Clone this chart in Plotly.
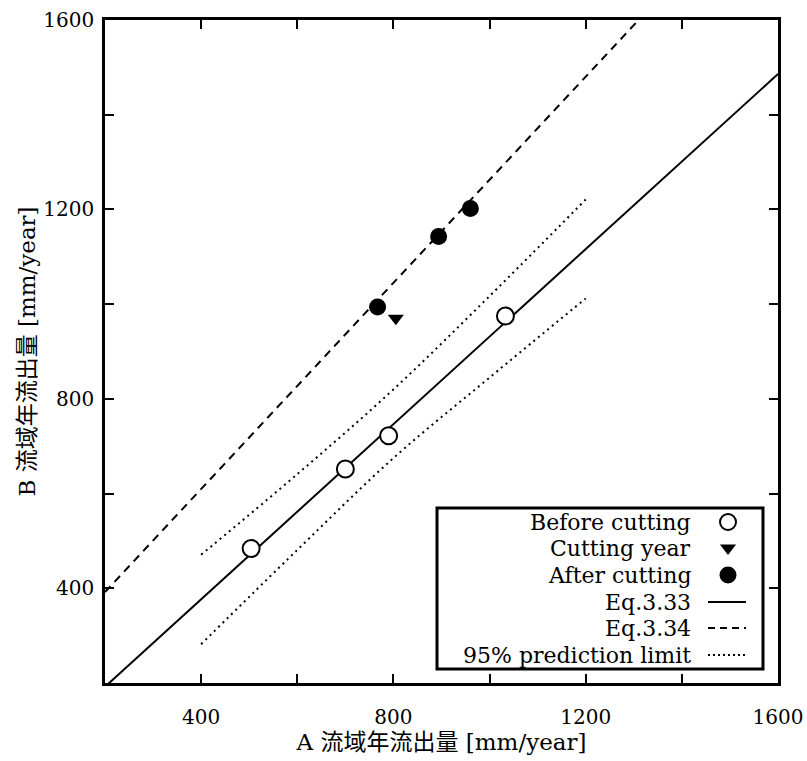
import plotly.graph_objects as go

# ---- data ----
before_x = [504, 700, 790, 1033]
before_y = [484, 652, 722, 975]
cutyear_x = [805]
cutyear_y = [970]
after_x = [767, 894, 960]
after_y = [994, 1143, 1202]

eq333_x = [200, 1600]
eq333_y = [192, 1486]
eq334_x = [200, 1310]
eq334_y = [392, 1600]

pred_x = [400, 600, 800, 1000, 1200]
pred_upper = [471, 641, 820, 1017, 1221]
pred_lower = [282, 481, 675, 845, 1012]

tick_vals = [200, 400, 600, 800, 1000, 1200, 1400, 1600]
tick_text = ["", "400", "", "800", "", "1200", "", "1600"]

legend_labels = ["Before cutting", "Cutting year", "After cutting",
                 "Eq.3.33", "Eq.3.34", "95% prediction limit"]

FONT = "DejaVu Serif, Noto Sans CJK JP, serif"

fig = go.Figure()

# lines
fig.add_trace(go.Scatter(x=eq333_x, y=eq333_y, mode="lines",
                         line=dict(color="black", width=2), showlegend=False))
fig.add_trace(go.Scatter(x=eq334_x, y=eq334_y, mode="lines",
                         line=dict(color="black", width=2, dash="8px,6px"), showlegend=False))
fig.add_trace(go.Scatter(x=pred_x, y=pred_upper, mode="lines", line_shape="spline",
                         line=dict(color="black", width=2, dash="2px,4px"), showlegend=False))
fig.add_trace(go.Scatter(x=pred_x, y=pred_lower, mode="lines", line_shape="spline",
                         line=dict(color="black", width=2, dash="2px,4px"), showlegend=False))

# points
fig.add_trace(go.Scatter(x=before_x, y=before_y, mode="markers",
                         marker=dict(symbol="circle", size=17, color="white",
                                     line=dict(color="black", width=2)), showlegend=False))
fig.add_trace(go.Scatter(x=cutyear_x, y=cutyear_y, mode="markers",
                         marker=dict(symbol="triangle-down", size=14, color="black"),
                         showlegend=False))
fig.add_trace(go.Scatter(x=after_x, y=after_y, mode="markers",
                         marker=dict(symbol="circle", size=17, color="black"),
                         showlegend=False))

# ---- manual legend (text right-aligned, sample on the right) ----
W, H = 807, 761
L, R, T, B = 105, 29, 20, 78
pw, ph = W - L - R, H - T - B


def px_x(p):
    return (p - L) / pw


def px_y(p):
    return (H - B - p) / ph


rows_py = [522, 548, 575, 602, 628, 655]
text_right = 693
sym_x = 728

fig.add_shape(type="rect", xref="paper", yref="paper",
              x0=px_x(437), x1=px_x(763), y0=px_y(669), y1=px_y(508),
              line=dict(color="black", width=3), fillcolor="white", layer="below")

for lab, py in zip(legend_labels, rows_py):
    fig.add_annotation(x=px_x(text_right), y=px_y(py), xref="paper", yref="paper",
                       text=lab, showarrow=False, xanchor="right", yanchor="middle",
                       font=dict(family=FONT, size=22, color="black"))

# legend marker samples on an overlay axis in paper-like units
fig.add_trace(go.Scatter(x=[px_x(sym_x)], y=[px_y(rows_py[0])], mode="markers",
                         marker=dict(symbol="circle", size=16, color="white",
                                     line=dict(color="black", width=2)),
                         xaxis="x2", yaxis="y2", showlegend=False))
fig.add_trace(go.Scatter(x=[px_x(sym_x)], y=[px_y(rows_py[1])], mode="markers",
                         marker=dict(symbol="triangle-down", size=14, color="black"),
                         xaxis="x2", yaxis="y2", showlegend=False))
fig.add_trace(go.Scatter(x=[px_x(sym_x)], y=[px_y(rows_py[2])], mode="markers",
                         marker=dict(symbol="circle", size=17, color="black"),
                         xaxis="x2", yaxis="y2", showlegend=False))
dashes = ["solid", "7px,5px", "2px,3px"]
for d, py in zip(dashes, rows_py[3:]):
    fig.add_trace(go.Scatter(x=[px_x(708), px_x(746)], y=[px_y(py), px_y(py)],
                             mode="lines", line=dict(color="black", width=2, dash=d),
                             xaxis="x2", yaxis="y2", showlegend=False))

axis_common = dict(range=[200, 1600], tickvals=tick_vals, ticktext=tick_text,
                   ticks="inside", ticklen=9, tickwidth=1.5, tickcolor="black",
                   showline=True, linecolor="black", linewidth=2.5, mirror="ticks",
                   showgrid=False, zeroline=False, automargin=False,
                   tickfont=dict(family=FONT, size=20, color="black"))

fig.update_layout(
    width=W, height=H,
    margin=dict(l=L, r=R, t=T, b=B),
    paper_bgcolor="white", plot_bgcolor="white",
    xaxis=dict(**axis_common, ticklabelstandoff=14,
               title=dict(text="A 流域年流出量 [mm/year]", standoff=6,
                          font=dict(family=FONT, size=23, color="black"))),
    yaxis=dict(**axis_common, ticklabelstandoff=4,
               title=dict(text="B 流域年流出量 [mm/year]", standoff=2,
                          font=dict(family=FONT, size=23, color="black"))),
    xaxis2=dict(range=[0, 1], overlaying="x", visible=False, anchor="y2"),
    yaxis2=dict(range=[0, 1], overlaying="y", visible=False, anchor="x2"),
    showlegend=False,
)

fig.write_html("out.html")
